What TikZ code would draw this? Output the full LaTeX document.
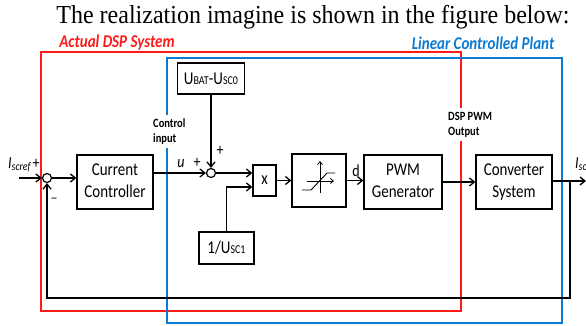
\documentclass[tikz,border=0pt]{standalone}
\usepackage{graphicx}
\usepackage{fontspec}
\setmainfont{Carlito}
\newfontfamily\titlefont{Liberation Serif}
\usetikzlibrary{arrows.meta}

\definecolor{dspred}{HTML}{FF1A1A}
\definecolor{plantblue}{HTML}{0A7AD2}

% text is set slightly taller than wide
\newcommand\tallbox[1]{\scalebox{1}[1.2]{#1}}
\newcommand\tallstack[1]{\tallbox{\begin{tabular}{@{}c@{}}#1\end{tabular}}}
\newcommand\tallleft[1]{\tallbox{\begin{tabular}{@{}l@{}}#1\end{tabular}}}
\newcommand\smallcap[1]{{\fontsize{10}{12}\selectfont #1}}

\begin{document}
\begin{tikzpicture}[x=1pt,y=-1pt,
  blk/.style={draw, line width=1.2pt, inner sep=0pt, align=center,
              font=\fontsize{15}{19}\selectfont},
  sumnode/.style={circle, draw, line width=1.2pt, minimum size=9pt, inner sep=0pt},
  arr/.style={-{Straight Barb[length=5pt,width=8pt,line width=1.3pt]}, line width=1.4pt},
  thinarr/.style={-{Straight Barb[length=3pt,width=5pt]}, line width=0.8pt},
  lbl/.style={inner sep=0pt, font=\fontsize{14}{16}\selectfont},
  note/.style={inner sep=1pt, fill=white, align=left,
               font=\fontsize{10.5}{13}\selectfont\bfseries},
  region/.style={line width=1.2pt},
  heading/.style={inner sep=0pt, font=\fontsize{15}{18}\selectfont\bfseries\itshape}
]
\useasboundingbox (0,0) rectangle (586,325);

% caption line
\node[inner sep=0pt, font=\titlefont\fontsize{24}{26}\selectfont] (title) at (313,17)
  {\scalebox{1}[1.08]{The realization imagine is shown in the figure below:}};

% system boundaries
\draw[region, dspred] (41,52) rectangle (461,311);
\draw[region, plantblue] (167,58) rectangle (562,323);
\node[heading, text=dspred] (dsplbl) at (117,43) {\tallbox{Actual DSP System}};
\node[heading, text=plantblue] (plantlbl) at (483,43) {\tallbox{Linear Controlled Plant}};

% blocks
\node[blk, minimum width=76pt, minimum height=54pt] (cc) at (115,182)
  {\tallstack{Current\\Controller}};
\node[blk, minimum width=67pt, minimum height=31pt] (ubat) at (211,78.5)
  {\tallbox{U\smallcap{BAT}-U\smallcap{SC0}}};
\node[blk, minimum width=23pt, minimum height=31pt] (xb) at (264.5,180.5) {\tallbox{x}};
\node[blk, minimum width=54pt, minimum height=53pt] (sat) at (319,180.5) {};
\node[blk, minimum width=78pt, minimum height=54pt] (pwm) at (403,182)
  {\tallstack{PWM\\Generator}};
\node[blk, minimum width=76pt, minimum height=54pt] (conv) at (514,182)
  {\tallstack{Converter\\System}};
\node[blk, minimum width=55pt, minimum height=32pt] (usc) at (226.5,248)
  {\tallbox{1/U\smallcap{SC1}}};

% summing junctions
\node[sumnode] (s1) at (47,178) {};
\node[sumnode] (s2) at (211,173) {};

% saturation characteristic
\draw[thinarr] (320,193) -- (320,161);
\draw[thinarr] (307,181) -- (334,181);
\draw[line width=0.9pt] (302,190) -- (311,190) -- (327,173) -- (335,173);

% signal flow
\coordinate (in) at (19,178);
\coordinate (out) at (586,181);
\coordinate (br) at (570,181);
\coordinate (fb) at (570,298);
\draw[arr] (in) -- (s1.west);
\draw[arr] (s1.east) -- (s1 -| cc.west);
\draw[arr] (cc.east |- s2) -- (s2.west);
\draw[arr] (ubat.south -| s2) -- (s2.north);
\draw[arr] (s2.east) -- (s2 -| xb.west);
\draw[arr] (usc.north) |- ([yshift=-6.5pt]xb.west);
\draw[arr] (xb.east) -- (sat.west);
\draw[arr] (sat.east) -- (sat.east -| pwm.west);
\draw[arr] (pwm.east) -- (conv.west);
\draw[arr] (conv.east |- out) -- (out);
\draw[arr] (br) -- (fb) -| (s1.south);

% signal labels
\node[lbl, anchor=base west] (iref) at (8,168) {\tallbox{\itshape I\textsubscript{scref}}};
\node[lbl, anchor=base west] (p1) at (32.5,168) {\tallbox{+}};
\node[lbl] (m1) at (54,200) {\textendash};
\node[lbl, anchor=base] (u) at (181,167) {\tallbox{\itshape u}};
\node[lbl, anchor=base] (p2) at (197,167) {\tallbox{+}};
\node[lbl, anchor=base] (p3) at (220,155) {\tallbox{+}};
\node[lbl, anchor=base] (d) at (356,176) {\tallbox{d}};
\node[lbl, anchor=base west] (isc) at (575,168) {\tallbox{\itshape I\textsubscript{sc}}};

% interface notes
\node[note, anchor=north west] (ctrl) at (152,115) {\tallleft{Control\\input}};
\node[note, anchor=north west] (pwmout) at (447,108) {\tallleft{DSP PWM\\Output}};
\end{tikzpicture}
\end{document}
